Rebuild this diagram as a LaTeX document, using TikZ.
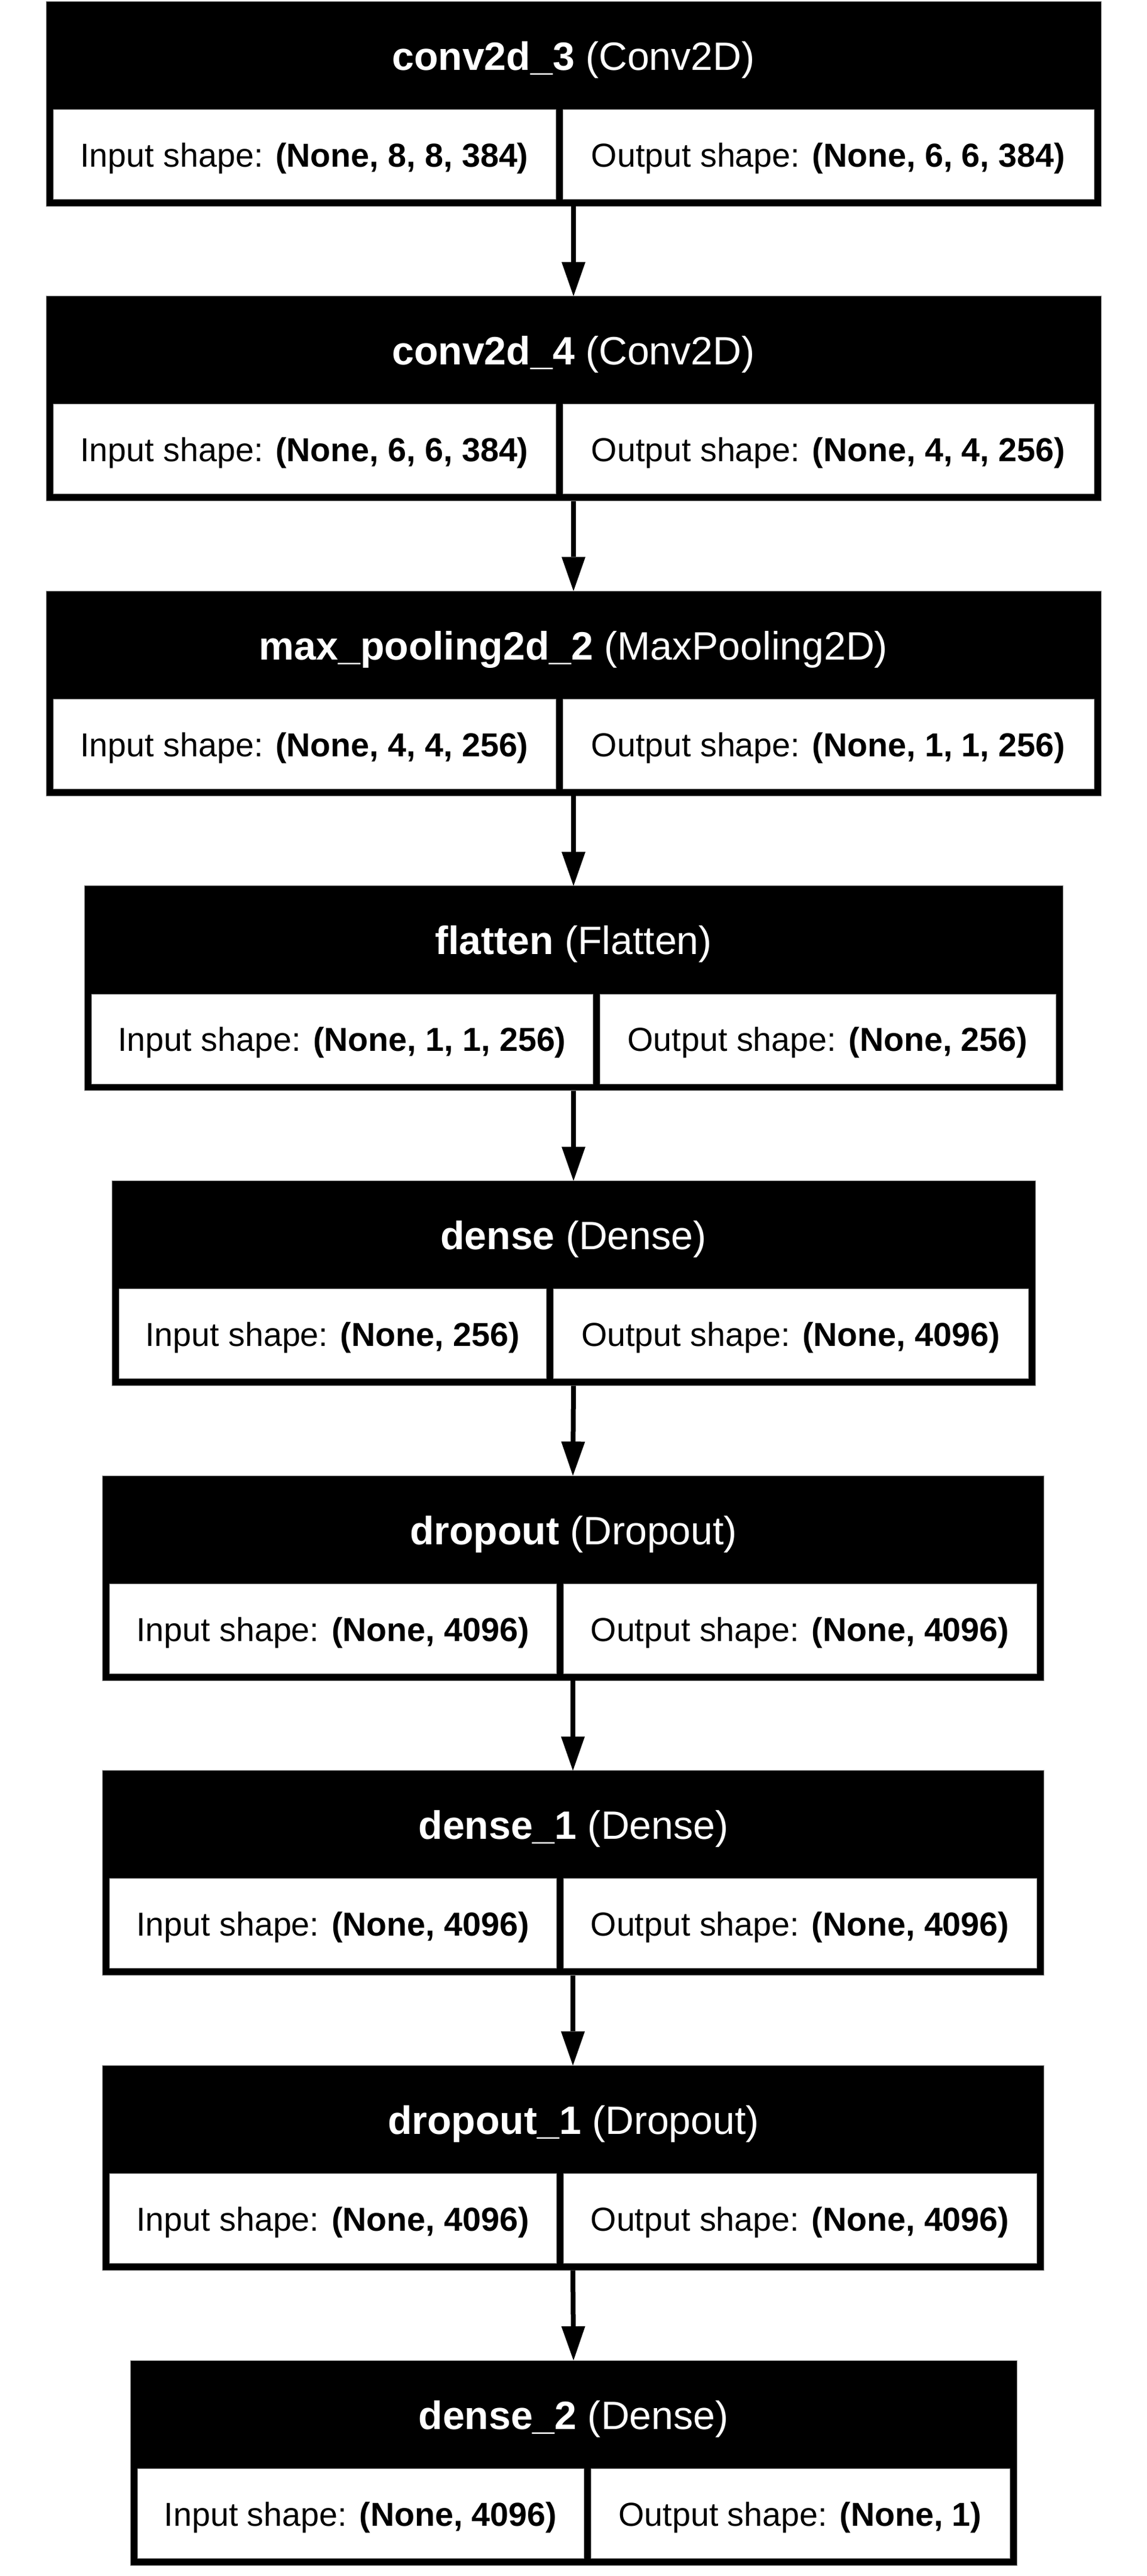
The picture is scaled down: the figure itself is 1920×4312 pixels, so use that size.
\documentclass[tikz,border=0pt]{standalone}
\usepackage{fontspec}
\setmainfont{Liberation Sans}
\usetikzlibrary{arrows.meta}
\tikzset{
  outerbox/.style={rectangle, fill=black, draw=black!45, line width=0.5pt, inner sep=0pt, outer sep=0pt},
  cellbox/.style={rectangle, fill=white, draw=black!35, line width=0.4pt, inner sep=0pt, outer sep=0pt},
  headtext/.style={text=white, inner sep=0pt, font=\fontsize{33.1pt}{38pt}\selectfont},
  celltext/.style={text=black, inner sep=0pt, font=\fontsize{27.8pt}{32pt}\selectfont},
  arr/.style={line width=4pt, -{Triangle[length=28.5pt, width=20pt, line width=0pt]}}
}
% #1 name, #2 index, #3 left, #4 end of left cell, #5 right, #6 layer name, #7 type, #8 input, #9 output
\newcommand\layerbox[9]{%
  \pgfmathsetmacro\LyT{2+493.625*#2}%
  \pgfmathsetmacro\LyInX{(#3+12+#4)/2}%
  \pgfmathsetmacro\LyOutX{(#4+12+#5-12)/2}%
  \node[outerbox, minimum width={(#5-#3)*0.5pt}, minimum height=171.5pt, anchor=north west] (#1) at (#3,\LyT) {};
  \node[headtext, anchor=base] (#1-h) at (960,\LyT+115) {\textbf{#6} (#7)};
  \node[cellbox, minimum width={(#4-#3-12)*0.5pt}, minimum height=75pt, anchor=north west] (#1-in) at (#3+12,\LyT+181) {};
  \node[cellbox, minimum width={(#5-#4-24)*0.5pt}, minimum height=75pt, anchor=north west] (#1-out) at (#4+12,\LyT+181) {};
  \node[celltext, anchor=base] (#1-inT) at (\LyInX,\LyT+277) {Input shape: \textbf{#8}};
  \node[celltext, anchor=base] (#1-outT) at (\LyOutX,\LyT+277) {Output shape: \textbf{#9}};
}
\begin{document}
\begin{tikzpicture}[x=0.5pt, y=-0.5pt]
  \useasboundingbox (0,0) rectangle (1920,4312);
  \fill[white] (0,0) rectangle (1920,4312);
  \layerbox{b1}{0}{77}{930}{1843}{conv2d\_3}{Conv2D}{(None, 8, 8, 384)}{(None, 6, 6, 384)}
  \layerbox{b2}{1}{77}{930}{1843}{conv2d\_4}{Conv2D}{(None, 6, 6, 384)}{(None, 4, 4, 256)}
  \layerbox{b3}{2}{77}{930}{1843}{max\_pooling2d\_2}{MaxPooling2D}{(None, 4, 4, 256)}{(None, 1, 1, 256)}
  \layerbox{b4}{3}{141}{992}{1779}{flatten}{Flatten}{(None, 1, 1, 256)}{(None, 256)}
  \layerbox{b5}{4}{187}{914}{1733}{dense}{Dense}{(None, 256)}{(None, 4096)}
  \layerbox{b6}{5}{171}{931}{1747}{dropout}{Dropout}{(None, 4096)}{(None, 4096)}
  \layerbox{b7}{6}{171}{931}{1747}{dense\_1}{Dense}{(None, 4096)}{(None, 4096)}
  \layerbox{b8}{7}{171}{931}{1747}{dropout\_1}{Dropout}{(None, 4096)}{(None, 4096)}
  \layerbox{b9}{8}{218}{977}{1702}{dense\_2}{Dense}{(None, 4096)}{(None, 1)}
  \draw[arr] (b1.south) -- (b2.north);
  \draw[arr] (b2.south) -- (b3.north);
  \draw[arr] (b3.south) -- (b4.north);
  \draw[arr] (b4.south) -- (b5.north);
  \draw[arr] (b5.south) -- (b6.north);
  \draw[arr] (b6.south) -- (b7.north);
  \draw[arr] (b7.south) -- (b8.north);
  \draw[arr] (b8.south) -- (b9.north);
\end{tikzpicture}
\end{document}
